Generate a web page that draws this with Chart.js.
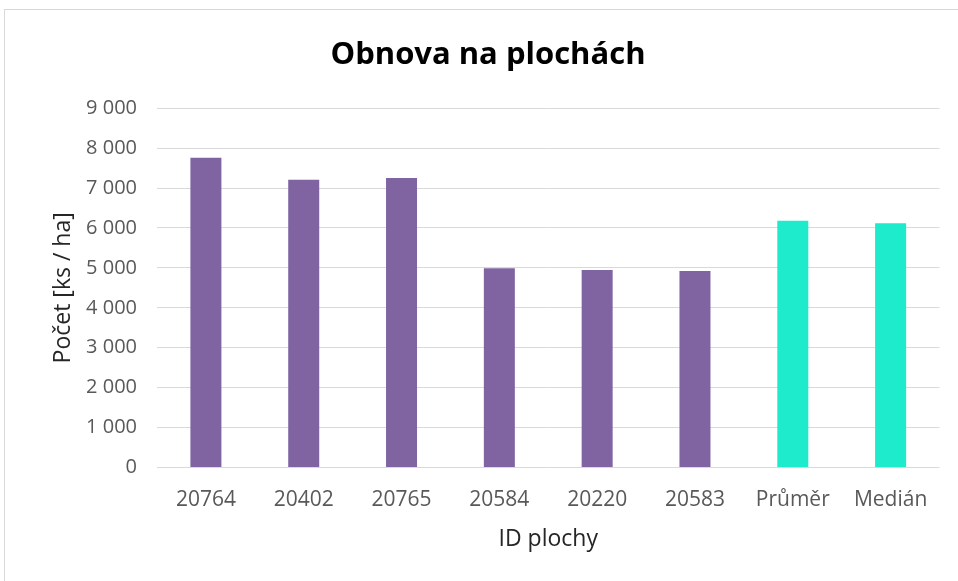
<!DOCTYPE html>
<html>
<head>
<meta charset="utf-8">
<script src="https://cdn.jsdelivr.net/npm/chart.js@4.4.0/dist/chart.umd.min.js"></script>
<style>
  html, body { margin: 0; padding: 0; background: #ffffff; }
  #wrap { position: absolute; left: 0; top: 0; width: 958px; height: 581px; }
</style>
</head>
<body>
<div id="wrap"><canvas id="c" width="958" height="581"></canvas></div>
<script>
const categories = ['20764', '20402', '20765', '20584', '20220', '20583', 'Průměr', 'Medián'];
const values = [7760, 7210, 7250, 4990, 4945, 4925, 6180, 6120];
const barColors = ['#8064A2', '#8064A2', '#8064A2', '#8064A2', '#8064A2', '#8064A2', '#1EEBCB', '#1EEBCB'];
const yTickValues = [0, 1000, 2000, 3000, 4000, 5000, 6000, 7000, 8000, 9000];

const FONT = "'Open Sans', 'Noto Sans', sans-serif";

const framePlugin = {
  id: 'frame',
  beforeDraw(chart) {
    const ctx = chart.ctx;
    ctx.save();
    ctx.fillStyle = '#ffffff';
    ctx.fillRect(0, 0, chart.width, chart.height);
    ctx.strokeStyle = '#d9d9d9';
    ctx.lineWidth = 1;
    ctx.strokeRect(4.5, 9.5, chart.width + 20, chart.height + 20);
    ctx.restore();
  }
};

new Chart(document.getElementById('c'), {
  type: 'bar',
  data: {
    labels: categories,
    datasets: [{
      data: values,
      backgroundColor: barColors,
      borderWidth: 0,
      barPercentage: 1,
      categoryPercentage: 0.317
    }]
  },
  options: {
    responsive: false,
    animation: false,
    devicePixelRatio: 1,
    layout: { padding: { left: 36.5, right: 18.5, top: 0, bottom: 0 } },
    plugins: {
      legend: { display: false },
      tooltip: { enabled: false },
      title: {
        display: true,
        text: 'Obnova na plochách',
        color: '#000000',
        font: { family: FONT, size: 31, weight: 'bold' },
        padding: { top: 37, bottom: 34 }
      }
    },
    scales: {
      x: {
        grid: { display: false },
        border: { display: false },
        ticks: {
          color: '#595959',
          font: { family: FONT, size: 21 },
          padding: 12,
          maxRotation: 0,
          autoSkip: false
        },
        title: {
          display: true,
          text: 'ID plochy',
          color: '#262626',
          font: { family: FONT, size: 23 },
          padding: { top: 0, bottom: 28 }
        },
        afterFit(scale) { scale.height = 113.5; }
      },
      y: {
        min: 0,
        max: 9000,
        afterBuildTicks(scale) { scale.ticks = yTickValues.map(v => ({ value: v })); },
        grid: { color: '#d9d9d9', drawTicks: false, lineWidth: 1 },
        border: { display: false },
        ticks: {
          color: '#595959',
          font: { family: FONT, size: 20 },
          padding: 20,
          callback: v => String(v).replace(/\B(?=(\d{3})+(?!\d))/g, ' ')
        },
        title: {
          display: true,
          text: 'Počet [ks / ha]',
          color: '#262626',
          font: { family: FONT, size: 23 },
          padding: { top: 13, bottom: 0 }
        },
        afterFit(scale) { scale.width = 120.5; }
      }
    }
  },
  plugins: [framePlugin]
});
</script>
</body>
</html>
